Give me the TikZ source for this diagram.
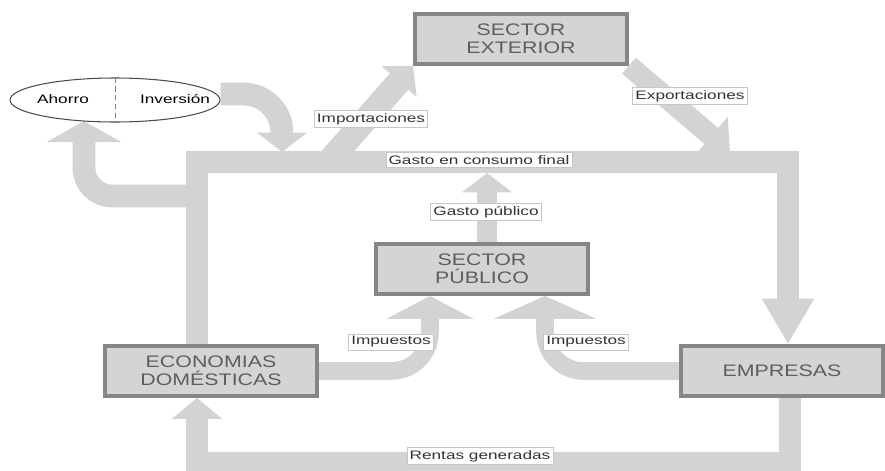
\documentclass[tikz,border=0pt]{standalone}
\usepackage{fontspec}
\setmainfont{Liberation Sans}
\newfontfamily\boxfont[FakeStretch=1.28]{Liberation Sans}
\newfontfamily\lblfont[FakeStretch=1.4]{Liberation Sans}
\usetikzlibrary{arrows.meta,shapes.geometric,backgrounds}
\definecolor{bandgray}{HTML}{D3D3D3}
\definecolor{boxgray}{HTML}{D4D4D4}
\definecolor{boxline}{HTML}{868686}
\definecolor{boxtext}{HTML}{5E5E5E}
\tikzset{
  sector/.style={draw=boxline, line width=2pt, fill=boxgray, text=boxtext,
    font=\boxfont\fontsize{9.5}{10.5}\selectfont, align=center,
    minimum height=1.0cm, minimum width=4.25cm, inner sep=1pt},
  band/.style={draw=bandgray, line width=13pt},
  flowlabel/.style={draw=gray!45, line width=0.4pt, fill=white, text=black!80,
    font=\lblfont\fontsize{7}{8}\selectfont, inner sep=1.5pt},
}

\begin{document}
\begin{tikzpicture}[x=0.02cm, y=-0.02cm]
\useasboundingbox (0,0) rectangle (885,470);
% sectores
\node[sector] (se) at (521,39) {SECTOR\\EXTERIOR};
\node[sector] (sp) at (482,269) {SECTOR\\PÚBLICO};
\node[sector] (ed) at (211,371) {ECONOMIAS\\DOMÉSTICAS};
\node[sector, minimum width=4.05cm] (emp) at (782,371) {EMPRESAS};
% ahorro / inversion
\node[ellipse, draw=black!70, line width=0.6pt, fill=white,
  minimum width=4.2cm, minimum height=0.88cm] (ell) at (115,100) {};
\node[font=\lblfont\fontsize{7}{8}\selectfont] (ah) at (63,99) {Ahorro};
\node[font=\lblfont\fontsize{7}{8}\selectfont] (inv) at (175,99) {Inversión};
\draw[densely dashed, gray] (ell.north) -- (ell.south);
% puntos de los flujos
\coordinate (tl) at (197,162);
\coordinate (tr) at (788,162);
\coordinate (bl) at (197,463);
\coordinate (br) at (790,463);
\coordinate (gb) at (487,173);
\coordinate (ib) at (282,152);
\coordinate (lb) at (197,196);
\coordinate (ab) at (84,121);
\coordinate (im) at (330,160);
\coordinate (ex) at (730,152);
\coordinate (ia) at (430,296);
\coordinate (ic) at (545,296);
\begin{scope}[on background layer]
  \draw[band, -{Triangle[width=28pt,length=26pt]}] (ed.north -| tl) -- (tl) -- (tr) -- (emp.north -| tr);
  \draw[band, -{Triangle[width=28pt,length=12pt]}] (emp.south -| br) -- (br) -- (bl) -- (ed.south -| bl);
  \draw[band, line width=11pt, -{Triangle[width=28pt,length=11pt]}] (sp.north -| gb) -- (gb);
  \draw[band, rounded corners=22pt, -{Triangle[width=28pt,length=11pt]}] (ell.east |- 0,94) -| (ib);
  \draw[band, rounded corners=16pt, -{Triangle[width=42pt,length=12pt]}] (lb) -| (ab);
  \draw[band, line width=14pt, -{Triangle[width=26pt,length=12pt]}] (im) -- (se.south west);
  \draw[band, line width=12pt, -{Triangle[width=28pt,length=14pt]}] (se.south east) -- (ex);
  \draw[band, line width=10pt, rounded corners=22pt, -{Triangle[width=49pt,length=13pt]}] (ed.east) -| (ia);
  \draw[band, line width=10pt, rounded corners=22pt, -{Triangle[width=58pt,length=13pt]}] (emp.west) -| (ic);
\end{scope}
% etiquetas
\node[flowlabel] (limp) at (371,119) {Importaciones};
\node[flowlabel] (lexp) at (690,96) {Exportaciones};
\node[flowlabel] (lgc) at (479,160) {Gasto en consumo final};
\node[flowlabel] (lgp) at (486,212) {Gasto público};
\node[flowlabel] (li1) at (391,342) {Impuestos};
\node[flowlabel] (li2) at (586,342) {Impuestos};
\node[flowlabel] (lren) at (480,456) {Rentas generadas};
\end{tikzpicture}
\end{document}
